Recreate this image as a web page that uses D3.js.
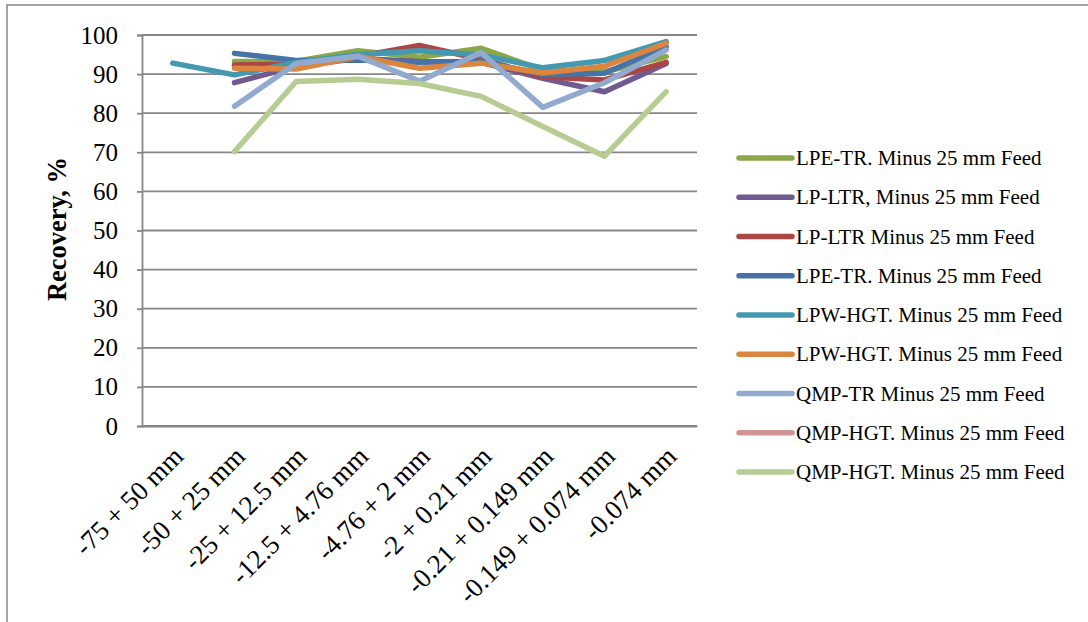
<!DOCTYPE html>
<html>
<head>
<meta charset="utf-8">
<script src="https://cdn.jsdelivr.net/npm/d3@7"></script>
<style>
  html, body { margin: 0; padding: 0; background: #fff; }
  svg { display: block; }
  text { font-family: "Liberation Serif", "Times New Roman", serif; fill: #000; }
</style>
</head>
<body>
<svg id="chart" width="1088" height="622"></svg>
<script>
// Size fractions
const categories = ["-75 + 50 mm", "-50 + 25 mm", "-25 + 12.5 mm", "-12.5 + 4.76 mm",
  "-4.76 + 2 mm", "-2 + 0.21 mm", "-0.21 + 0.149 mm", "-0.149 + 0.074 mm", "-0.074 mm"];

// Recovery (%) per size fraction, one array per test
const lpeTrA   = [null, 93.2, 93.3, 96.0, 94.3, 96.6, 91.0, 90.6, 94.5];
const lpLtrA   = [null, 87.8, 92.0, 94.0, 93.2, 93.0, 88.9, 85.5, 92.7];
const lpLtrB   = [null, 92.3, 92.5, 94.5, 97.3, 93.8, 89.3, 88.5, 93.0];
const lpeTrB   = [null, 95.3, 93.5, 93.6, 93.0, 93.3, 89.9, 90.2, 97.0];
const lpwHgtA  = [92.8, 89.8, 93.0, 95.0, 96.0, 94.9, 91.6, 93.5, 98.3];
const lpwHgtB  = [null, 91.5, 91.3, 94.5, 91.5, 92.8, 90.3, 92.0, 97.9];
const qmpTr    = [null, 81.8, 92.7, 94.6, 88.2, 95.5, 81.5, 87.8, 96.2];
const qmpHgtA  = [null, null, null, null, null, null, null, null, null];
const qmpHgtB  = [null, 70.2, 88.1, 88.7, 87.6, 84.3, 76.6, 69.0, 85.5];

const seriesNames = ["LPE-TR. Minus 25 mm Feed", "LP-LTR, Minus 25 mm Feed", "LP-LTR Minus 25 mm Feed",
  "LPE-TR. Minus 25 mm Feed", "LPW-HGT. Minus 25 mm Feed", "LPW-HGT. Minus 25 mm Feed",
  "QMP-TR Minus 25 mm Feed", "QMP-HGT. Minus 25 mm Feed", "QMP-HGT. Minus 25 mm Feed"];
const seriesValues = [lpeTrA, lpLtrA, lpLtrB, lpeTrB, lpwHgtA, lpwHgtB, qmpTr, qmpHgtA, qmpHgtB];
const seriesColors = ["#8aa74a", "#715a91", "#ac4644", "#4673a8", "#4399b0", "#dc853e",
  "#92a9d0", "#d19494", "#b7cc93"];

const yTicks = [0, 10, 20, 30, 40, 50, 60, 70, 80, 90, 100];
const yTitle = "Recovery, %";

const svg = d3.select("#chart");
const gridColor = "#878787";

// Outer chart frame (continues past the right and bottom edges)
svg.append("rect")
  .attr("x", 7).attr("y", 5).attr("width", 1200).attr("height", 700)
  .attr("fill", "none").attr("stroke", gridColor).attr("stroke-width", 1.5);

const plot = { left: 142, right: 697, top: 35, bottom: 426 };

const x = d3.scaleBand().domain(categories).range([plot.left, plot.right]).padding(0);
const y = d3.scaleLinear().domain([0, 100]).range([plot.bottom, plot.top]);

// Horizontal gridlines
svg.append("g").selectAll("line").data(yTicks).join("line")
  .attr("x1", plot.left).attr("x2", plot.right)
  .attr("y1", d => y(d)).attr("y2", d => y(d))
  .attr("stroke", gridColor).attr("stroke-width", 1.8);

// Y axis
const yAxis = svg.append("g").attr("transform", `translate(${plot.left},0)`)
  .call(d3.axisLeft(y).tickValues(yTicks).tickSize(5).tickPadding(19));
yAxis.select(".domain").attr("stroke", gridColor).attr("stroke-width", 1.8);
yAxis.selectAll(".tick line").attr("stroke", gridColor).attr("stroke-width", 1.8);
yAxis.selectAll(".tick text")
  .style("font-family", '"Liberation Serif", serif')
  .attr("font-size", 25).attr("fill", "#000");

// X axis
const xAxis = svg.append("g").attr("transform", `translate(0,${plot.bottom})`)
  .call(d3.axisBottom(x).tickSize(0).tickPadding(0));
xAxis.select(".domain").attr("stroke", gridColor).attr("stroke-width", 1.8);
xAxis.selectAll(".tick text")
  .style("font-family", '"Liberation Serif", serif')
  .attr("font-size", 27).attr("fill", "#000")
  .attr("text-anchor", "end")
  .attr("dy", 0)
  .attr("transform", "translate(12,32) rotate(-45)");

// Axis title
svg.append("text")
  .attr("transform", `translate(66,229) rotate(-90)`)
  .attr("text-anchor", "middle")
  .attr("font-size", 26.5).attr("font-weight", "bold")
  .text(yTitle);

// Series lines
const line = d3.line()
  .defined(d => d.v != null)
  .x(d => x(d.c) + x.bandwidth() / 2)
  .y(d => y(d.v));

seriesValues.forEach((vals, i) => {
  const pts = vals.map((v, j) => ({ c: categories[j], v }));
  svg.append("path")
    .datum(pts)
    .attr("fill", "none")
    .attr("stroke", seriesColors[i])
    .attr("stroke-width", 5.5)
    .attr("stroke-linejoin", "round")
    .attr("stroke-linecap", "round")
    .attr("d", line);
});

// Legend
const legend = svg.append("g");
const legY = d3.scalePoint().domain(d3.range(seriesNames.length)).range([158, 472]);
seriesNames.forEach((name, i) => {
  const cy = legY(i);
  legend.append("line")
    .attr("x1", 739).attr("x2", 792).attr("y1", cy).attr("y2", cy)
    .attr("stroke", seriesColors[i]).attr("stroke-width", 5.5).attr("stroke-linecap", "round");
  legend.append("text")
    .attr("x", 796).attr("y", cy + 7)
    .attr("font-size", 21)
    .text(name);
});
</script>
</body>
</html>
